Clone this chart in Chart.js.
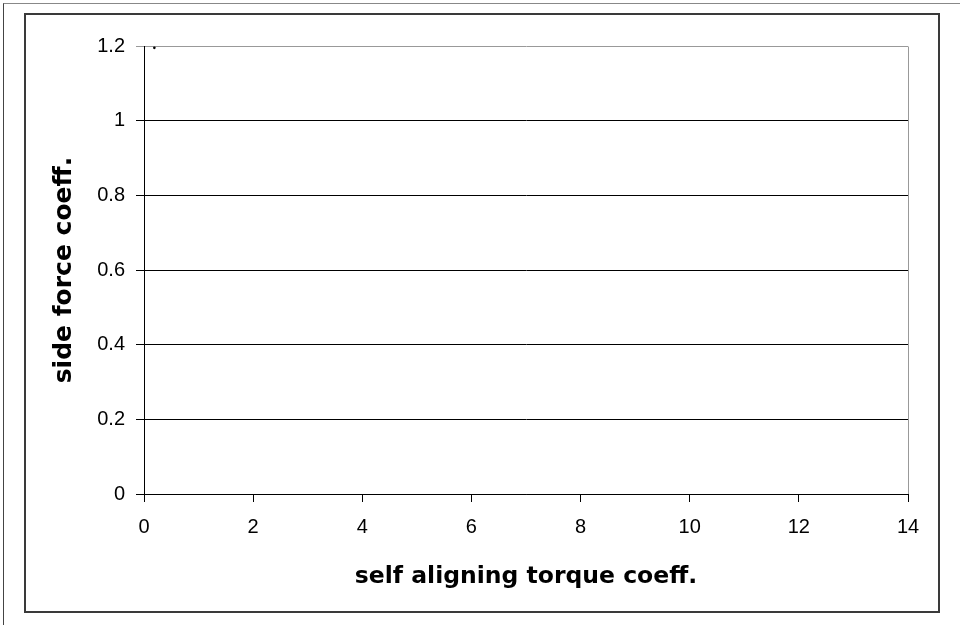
<!DOCTYPE html>
<html>
<head>
<meta charset="utf-8">
<script src="https://cdn.jsdelivr.net/npm/chart.js@4/dist/chart.umd.min.js"></script>
<style>
  html, body { margin: 0; padding: 0; background: #fff; overflow: hidden; }
  #wrap { position: relative; width: 960px; height: 625px; }
  #outer { position: absolute; left: 3px; top: 3px; width: 1100px; height: 1100px;
           border-left: 1px solid #444; border-top: 1px solid #888; }
  #inner { position: absolute; left: 24px; top: 13px; width: 912px; height: 596px;
           border: 2px solid #3a3a3a; }
  #c { position: absolute; left: 0; top: 0; }
</style>
</head>
<body>
<div id="wrap">
  <div id="outer"></div>
  <div id="inner"></div>
  <canvas id="c" width="960" height="625"></canvas>
</div>
<script>
// ---- data ----
const seriesX = [0.19];
const seriesY = [1.195];
const xTickLabels = ['0', '2', '4', '6', '8', '10', '12', '14'];
const yTickLabels = ['0', '0.2', '0.4', '0.6', '0.8', '1', '1.2'];
const xTitle = 'self aligning torque coeff.';
const yTitle = 'side force coeff.';

const points = seriesX.map((x, i) => ({ x: x, y: seriesY[i] }));

const xTitleFont = { family: 'DejaVu Sans', size: 23.5, weight: 'bold' };
const yTitleFont = { family: 'DejaVu Sans', size: 25, weight: 'bold' };
const tickFont = { family: 'Liberation Sans', size: 20 };

const plotFrame = {
  id: 'plotFrame',
  beforeDatasetsDraw(chart) {
    const { ctx, chartArea: a } = chart;
    ctx.save();
    ctx.strokeStyle = '#999999';
    ctx.lineWidth = 1;
    ctx.beginPath();
    ctx.moveTo(Math.round(a.right) + 0.5, Math.round(a.top) + 0.5);
    ctx.lineTo(Math.round(a.right) + 0.5, Math.round(a.bottom));
    ctx.stroke();
    ctx.restore();
  }
};

new Chart(document.getElementById('c'), {
  type: 'scatter',
  data: {
    datasets: [{
      data: points,
      backgroundColor: '#000',
      borderColor: '#000',
      pointRadius: 1.3,
      pointBorderWidth: 0,
      showLine: false
    }]
  },
  options: {
    responsive: false,
    animation: false,
    devicePixelRatio: 1,
    layout: { padding: { top: 46, right: 52, left: 0, bottom: 0 } },
    plugins: { legend: { display: false }, tooltip: { enabled: false } },
    scales: {
      x: {
        type: 'linear', min: 0, max: 14,
        afterFit(s) { s.height = 131; },
        ticks: {
          stepSize: 2, color: '#000', font: tickFont, padding: 13,
          callback: (v) => xTickLabels[Math.round(v / 2)]
        },
        grid: { drawOnChartArea: false, drawTicks: true, tickLength: 8, color: '#000' },
        border: { color: '#000', width: 1 },
        title: { display: true, text: xTitle, color: '#000', font: xTitleFont,
                 padding: { top: 0, bottom: 34 } }
      },
      y: {
        type: 'linear', min: 0, max: 1.2,
        afterFit(s) { s.width = 144; },
        ticks: {
          stepSize: 0.2, color: '#000', font: tickFont, padding: 11,
          callback: (v) => yTickLabels[Math.round(v / 0.2)]
        },
        grid: {
          drawTicks: true, tickLength: 8,
          color: (ctx) => (ctx.tick && Math.abs(ctx.tick.value - 1.2) < 1e-6) ? '#999999' : '#000'
        },
        border: { color: '#000', width: 1 },
        title: { display: true, text: yTitle, color: '#000', font: yTitleFont,
                 padding: { top: 49.5, bottom: 0 } }
      }
    }
  },
  plugins: [plotFrame]
});
</script>
</body>
</html>
